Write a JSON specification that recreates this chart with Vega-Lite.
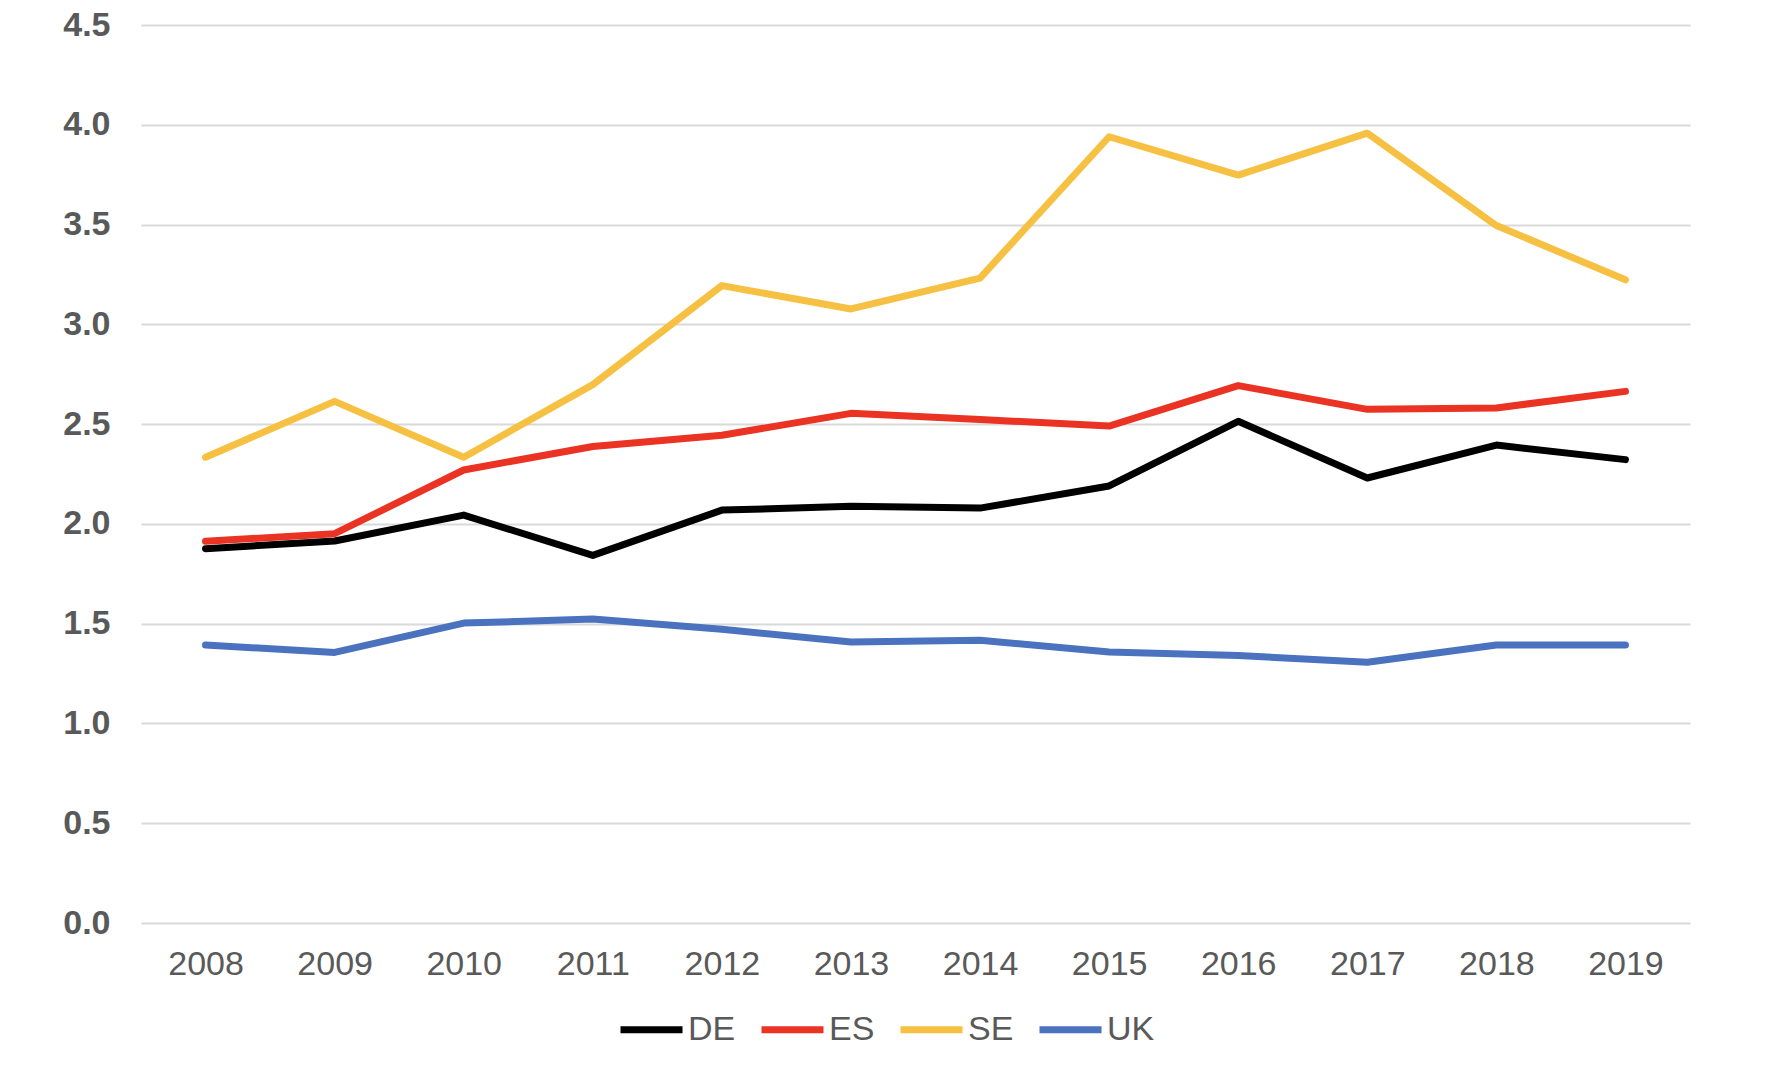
{
  "$schema": "https://vega.github.io/schema/vega-lite/v6.json",
  "width": 1549,
  "height": 898,
  "autosize": {"type": "none"},
  "padding": {"left": 141, "top": 25, "right": 92, "bottom": 149},
  "background": "white",
  "config": {
    "view": {"stroke": null},
    "font": "Liberation Sans"
  },
  "data": {
    "values": [
      {"year": "2008", "country": "DE", "value": 1.876},
      {"year": "2009", "country": "DE", "value": 1.914},
      {"year": "2010", "country": "DE", "value": 2.044},
      {"year": "2011", "country": "DE", "value": 1.842},
      {"year": "2012", "country": "DE", "value": 2.069},
      {"year": "2013", "country": "DE", "value": 2.088},
      {"year": "2014", "country": "DE", "value": 2.079},
      {"year": "2015", "country": "DE", "value": 2.19},
      {"year": "2016", "country": "DE", "value": 2.514},
      {"year": "2017", "country": "DE", "value": 2.23},
      {"year": "2018", "country": "DE", "value": 2.395},
      {"year": "2019", "country": "DE", "value": 2.322},
      {"year": "2008", "country": "ES", "value": 1.913},
      {"year": "2009", "country": "ES", "value": 1.951},
      {"year": "2010", "country": "ES", "value": 2.27},
      {"year": "2011", "country": "ES", "value": 2.388},
      {"year": "2012", "country": "ES", "value": 2.444},
      {"year": "2013", "country": "ES", "value": 2.554},
      {"year": "2014", "country": "ES", "value": 2.523},
      {"year": "2015", "country": "ES", "value": 2.49},
      {"year": "2016", "country": "ES", "value": 2.693},
      {"year": "2017", "country": "ES", "value": 2.574},
      {"year": "2018", "country": "ES", "value": 2.581},
      {"year": "2019", "country": "ES", "value": 2.664},
      {"year": "2008", "country": "SE", "value": 2.334},
      {"year": "2009", "country": "SE", "value": 2.614},
      {"year": "2010", "country": "SE", "value": 2.334},
      {"year": "2011", "country": "SE", "value": 2.698},
      {"year": "2012", "country": "SE", "value": 3.194},
      {"year": "2013", "country": "SE", "value": 3.077},
      {"year": "2014", "country": "SE", "value": 3.232},
      {"year": "2015", "country": "SE", "value": 3.94},
      {"year": "2016", "country": "SE", "value": 3.748},
      {"year": "2017", "country": "SE", "value": 3.958},
      {"year": "2018", "country": "SE", "value": 3.495},
      {"year": "2019", "country": "SE", "value": 3.223},
      {"year": "2008", "country": "UK", "value": 1.393},
      {"year": "2009", "country": "UK", "value": 1.356},
      {"year": "2010", "country": "UK", "value": 1.503},
      {"year": "2011", "country": "UK", "value": 1.523},
      {"year": "2012", "country": "UK", "value": 1.472},
      {"year": "2013", "country": "UK", "value": 1.408},
      {"year": "2014", "country": "UK", "value": 1.417},
      {"year": "2015", "country": "UK", "value": 1.358},
      {"year": "2016", "country": "UK", "value": 1.34},
      {"year": "2017", "country": "UK", "value": 1.307},
      {"year": "2018", "country": "UK", "value": 1.393},
      {"year": "2019", "country": "UK", "value": 1.393}
    ]
  },
  "mark": {"type": "line", "strokeWidth": 7, "strokeCap": "round", "strokeJoin": "round"},
  "encoding": {
    "x": {
      "field": "year",
      "type": "ordinal",
      "title": null,
      "scale": {"type": "point", "padding": 0.5},
      "axis": {
        "labelAngle": 0,
        "labelFontSize": 34,
        "labelColor": "#595959",
        "labelPadding": 24,
        "ticks": false,
        "tickSize": 0,
        "domain": false,
        "grid": false
      }
    },
    "y": {
      "field": "value",
      "type": "quantitative",
      "title": null,
      "scale": {"domain": [0, 4.5], "nice": false},
      "axis": {
        "values": [0, 0.5, 1, 1.5, 2, 2.5, 3, 3.5, 4, 4.5],
        "format": ".1f",
        "labelFontSize": 34,
        "labelFontWeight": "bold",
        "labelColor": "#595959",
        "labelPadding": 31,
        "ticks": false,
        "tickSize": 0,
        "domain": false,
        "gridColor": "#d9d9d9",
        "gridWidth": 2
      }
    },
    "color": {
      "field": "country",
      "type": "nominal",
      "title": null,
      "scale": {
        "domain": ["DE", "ES", "SE", "UK"],
        "range": ["#000000", "#EA3323", "#F6C143", "#4A72BF"]
      },
      "legend": {
        "orient": "none",
        "direction": "horizontal",
        "legendX": 476,
        "legendY": 970,
        "symbolType": "stroke",
        "symbolSize": 3844,
        "symbolStrokeWidth": 7,
        "labelFontSize": 34,
        "labelColor": "#595959",
        "labelOffset": 2,
        "columnPadding": 11
      }
    }
  }
}
